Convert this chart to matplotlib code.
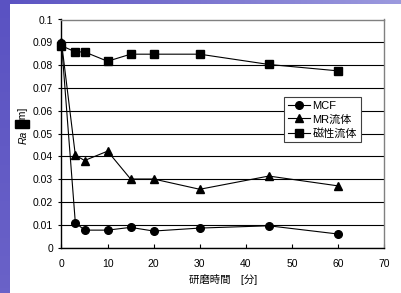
import matplotlib
matplotlib.use("Agg")
import matplotlib.pyplot as plt
import numpy as np
from matplotlib.patches import Rectangle

plt.rcParams["font.family"] = ["Liberation Sans", "Noto Sans CJK JP", "DejaVu Sans"]

# polishing time [min]
times = [0, 3, 5, 10, 15, 20, 30, 45, 60]
mcf = [0.0897, 0.0110, 0.0077, 0.0077, 0.0089, 0.0073, 0.0086, 0.0096, 0.0060]
mr_fluid = [0.0900, 0.0406, 0.0382, 0.0423, 0.0301, 0.0301, 0.0256, 0.0314, 0.0271]
magnetic_fluid = [0.0885, 0.0858, 0.0858, 0.0817, 0.0848, 0.0848, 0.0848, 0.0803, 0.0775]

series_labels = ["MCF", "MR流体", "磁性流体"]
x_ticks = [0, 10, 20, 30, 40, 50, 60, 70]
y_ticks = [0, 0.01, 0.02, 0.03, 0.04, 0.05, 0.06, 0.07, 0.08, 0.09, 0.1]
y_tick_labels = ["0", "0.01", "0.02", "0.03", "0.04", "0.05", "0.06", "0.07", "0.08", "0.09", "0.1"]


def main():
    W, H = 402, 293
    fig = plt.figure(figsize=(W / 100, H / 100), dpi=100)
    fig.patch.set_facecolor("white")

    # slide background: purple strip on the left and a gradient band on top
    bg = fig.add_axes([0, 0, 1, 1], zorder=-10)
    bg.set_axis_off()
    grad = np.linspace(0, 1, 256).reshape(1, -1)
    cmap = matplotlib.colors.LinearSegmentedColormap.from_list(
        "band", ["#5a52c2", "#7c76d0", "#9c9ade"])
    bg.imshow(grad, extent=(0, W, 4.5, 0), aspect="auto", cmap=cmap)
    left = np.linspace(0, 1, 64).reshape(-1, 1)
    cmap2 = matplotlib.colors.LinearSegmentedColormap.from_list(
        "left", ["#5a52c2", "#6a62c8"])
    bg.imshow(left, extent=(0, 10, H, 0), aspect="auto", cmap=cmap2)
    bg.set_xlim(0, W)
    bg.set_ylim(H, 0)

    ax = fig.add_axes([61.5 / W, 1 - 247.7 / H, (384 - 61.5) / W, (247.7 - 19.5) / H])
    ax.set_facecolor("white")

    kw = dict(color="black", lw=0.8, markersize=5.5, clip_on=False, zorder=3)
    ax.plot(times, mcf, marker="o", label=series_labels[0], **kw)
    ax.plot(times, mr_fluid, marker="^", label=series_labels[1], **kw)
    ax.plot(times, magnetic_fluid, marker="s", label=series_labels[2], **kw)

    ax.set_xlim(0, 70)
    ax.set_ylim(0, 0.1)
    ax.set_xticks(x_ticks)
    ax.set_yticks(y_ticks)
    ax.set_yticklabels(y_tick_labels)
    ax.grid(True, axis="y", color="black", lw=0.8)
    ax.set_axisbelow(True)
    ax.tick_params(axis="x", direction="in", length=3, width=0.8, labelsize=7.5, pad=8)
    ax.tick_params(axis="y", direction="out", length=2, width=0.8, labelsize=7.5, pad=4)

    for side in ["left", "bottom"]:
        ax.spines[side].set_color("black")
        ax.spines[side].set_linewidth(1.0)
    for side in ["top", "right"]:
        ax.spines[side].set_color("#808080")
        ax.spines[side].set_linewidth(1.0)

    ax.set_xlabel("研磨時間　[分]", fontsize=7.5, labelpad=4)

    # y label: "Ra [μm]" where the μ shows as a black box in the original
    fig.text(23.5 / W, 1 - 131 / H, "Ra", style="italic", rotation=90,
             fontsize=7.5, ha="center", va="top")
    fig.text(23.5 / W, 1 - 128 / H, "[  m]", rotation=90,
             fontsize=7.5, ha="center", va="bottom")
    fig.patches.append(Rectangle((15 / W, 1 - 128 / H), 14 / W, 8 / H,
                                 transform=fig.transFigure, color="black"))

    leg = ax.legend(loc="upper left", bbox_to_anchor=((284 - 61.5) / 322.5, (247.7 - 97) / 228.2),
                    borderaxespad=0, fontsize=8, handlelength=2.0, handletextpad=0.2,
                    labelspacing=0.3, borderpad=0.35, fancybox=False, framealpha=1,
                    edgecolor="#404040")
    leg.get_frame().set_linewidth(0.8)

    fig.savefig("out.png", dpi=100)
    plt.close(fig)


if __name__ == "__main__":
    main()
